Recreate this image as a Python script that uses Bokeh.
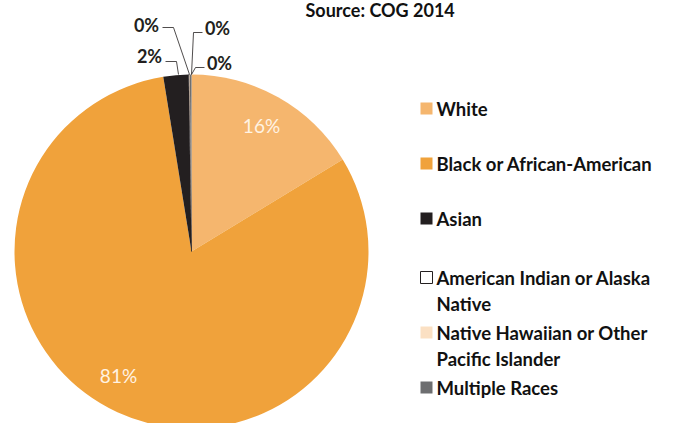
import numpy as np
from bokeh.plotting import figure
from bokeh.models import Range1d
from bokeh.core.properties import value
from bokeh.embed import file_html
from bokeh.resources import INLINE

# ---- data ----
categories = ["White", "Black or African-American", "Asian",
              "American Indian or Alaska Native",
              "Native Hawaiian or Other Pacific Islander", "Multiple Races"]
legend_lines = ["White", "Black or African-American", "Asian",
                "American Indian or Alaska\nNative",
                "Native Hawaiian or Other\nPacific Islander", "Multiple Races"]
shares = [16.3, 81.15, 2.3, 0.05, 0.05, 0.15]
title = "Source:  COG 2014"

# ---- style ----
colors = ["#F5B66E", "#F0A23B", "#231F20", "#FFFFFF", "#FBE0C3", "#6D6E70"]
line_cols = [None, None, None, "#231F20", None, None]
W, H = 678, 423
FONT = "Lato"

def X(xr):
    return xr
def Y(yr):
    return H - yr

p = figure(width=W, height=H, output_backend="svg", toolbar_location=None,
           x_range=Range1d(0, W), y_range=Range1d(0, H),
           min_border=0, outline_line_color=None)
p.axis.visible = False
p.grid.visible = False
p.background_fill_color = "white"
p.border_fill_color = "white"

cx, cy, r = X(191), Y(251), 177
fr = np.array(shares) / sum(shares)
cum = np.concatenate([[0], np.cumsum(fr)])
start = np.pi / 2 - cum[:-1] * 2 * np.pi
end = np.pi / 2 - cum[1:] * 2 * np.pi
for i in range(len(categories)):
    kw = dict(line_color=line_cols[i], line_width=0.6) if line_cols[i] else dict(line_color=None)
    p.wedge(x=cx, y=cy, radius=r, start_angle=start[i], end_angle=end[i],
            direction="clock", fill_color=colors[i], **kw)

labels = [f"{round(s):.0f}%" for s in shares]

# inside labels for big slices (label anchor positions, layout only)
inside_pos = {0: (261, 125), 1: (118, 375)}
for i, (lx, ly) in inside_pos.items():
    p.text(x=X(lx), y=Y(ly), text=[labels[i]], text_color="#FFF3E3",
           text_font=value(FONT), text_font_size="19px",
           text_align="center", text_baseline="middle")

# outside labels with leader lines (Asian, American Indian, Native Hawaiian, Multiple)
out = {
    2: dict(pos=(149, 55), line=[(165, 61), (176, 61), (178, 74)]),
    3: dict(pos=(146, 24), line=[(162, 27), (173, 27), (189, 74)]),
    4: dict(pos=(217, 27), line=[(202, 32), (193, 32), (191, 74)]),
    5: dict(pos=(219, 62), line=[(204, 67), (195, 67), (191, 74)]),
}
for i, d in out.items():
    xs = [X(a) for a, b in d["line"]]
    ys = [Y(b) for a, b in d["line"]]
    p.line(xs, ys, line_color="#231F20", line_width=0.8)
    p.text(x=X(d["pos"][0]), y=Y(d["pos"][1]), text=[labels[i]],
           text_color="#231F20", text_font=value(FONT), text_font_style="bold",
           text_font_size="18px", text_align="center", text_baseline="middle")

# legend
rows_y = [108, 163, 218, 277, 332, 387]
for i in range(len(categories)):
    p.rect(x=X(426), y=Y(rows_y[i]), width=12, height=12,
           fill_color=colors[i],
           line_color="#231F20" if line_cols[i] else None, line_width=1)
    p.text(x=X(436), y=Y(rows_y[i]) + 11, text=[legend_lines[i]],
           text_color="#111111", text_font=value(FONT), text_font_style="bold",
           text_font_size="18.5px", text_align="left", text_baseline="top",
           text_line_height=1.22)

# title (kept fully visible, as close to the top as possible)
p.text(x=X(305), y=Y(9), text=[title], text_color="#111111",
       text_font=value(FONT), text_font_style="bold", text_font_size="18px",
       text_align="left", text_baseline="alphabetic")

open("out.html", "w").write(file_html(p, INLINE))
